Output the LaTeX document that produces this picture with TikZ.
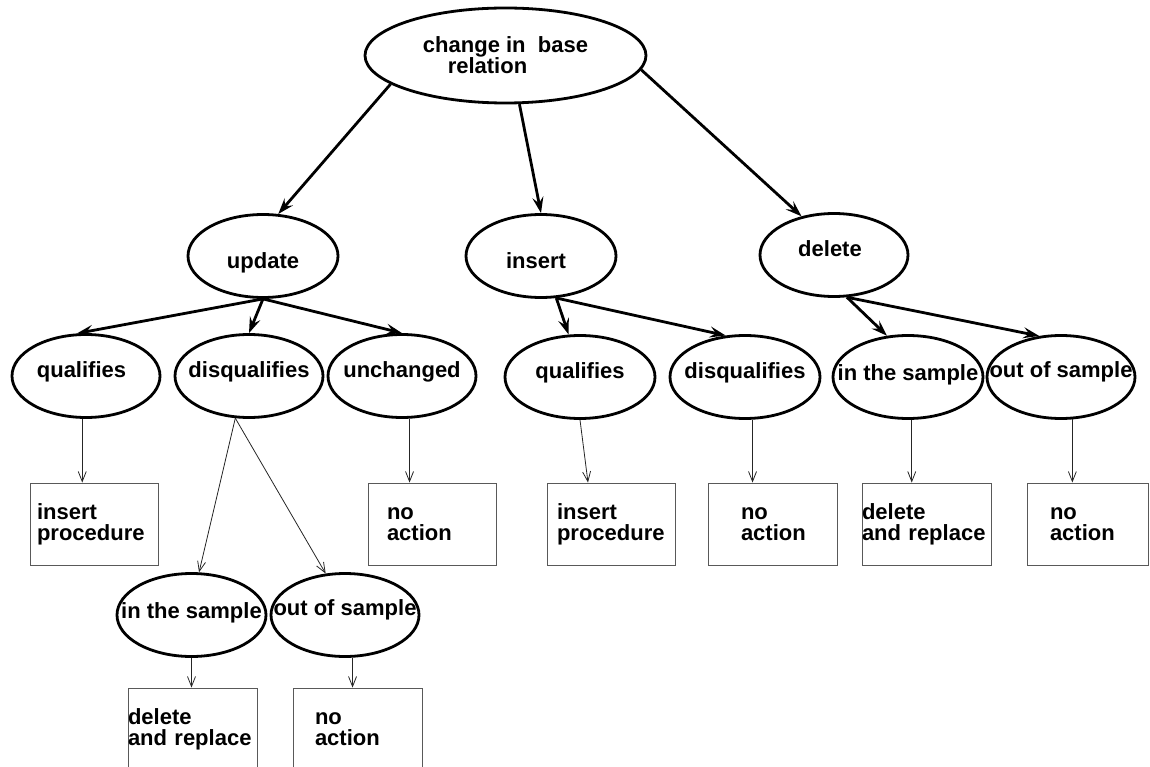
\documentclass[tikz,border=0pt]{standalone}
\usepackage{fontspec}
\setmainfont{Liberation Sans}
\usetikzlibrary{shapes.geometric,arrows.meta}
\newcommand{\zl}[1]{\makebox[0pt]{#1}}
\newcommand{\bt}[3]{\hspace*{#1pt}#2\\\hspace*{#1pt}#3}
\tikzset{
  lbl/.style={font=\fontsize{22}{21}\selectfont\bfseries},
  ell/.style={lbl, draw, ellipse, line width=2.8pt, minimum width=150pt, minimum height=83pt, inner sep=0pt, text depth=0pt},
  rootell/.style={lbl, draw, ellipse, line width=2.8pt, minimum width=281pt, minimum height=95pt, inner sep=0pt, align=center},
  bx/.style={lbl, draw=black!65, line width=0.9pt, minimum height=82pt, inner sep=0pt, align=left},
  thk/.style={line width=2.8pt, -{Stealth[length=16pt,width=11pt,inset=6pt]}},
  thn/.style={line width=0.8pt, draw=black!85, -{Straight Barb[length=10pt,width=8pt,line width=0.8pt]}}
}
\begin{document}
\begin{tikzpicture}[x=1pt,y=-1pt]
\useasboundingbox (0,0) rectangle (1150,767);
% root
\node[rootell] (root) at (505.5,55.5) {change in\ \ base\\relation\hspace*{36pt}};
% first level
\node[ell, text height=24pt] (upd) at (263,256) {\zl{update}};
\node[ell, text height=24pt] (ins) at (541,256) {\zl{\hspace*{-10pt}insert}};
\node[ell, minimum width=148pt, text height=4pt] (del) at (834,255) {\zl{\hspace*{-8pt}delete}};
% second level
\node[ell, minimum width=148pt, text height=2pt] (q1) at (86,376) {\zl{\hspace*{-9pt}qualifies}};
\node[ell, minimum width=148pt, text height=2pt] (d1) at (249,376) {\zl{disqualifies}};
\node[ell, minimum width=148pt, text height=2pt] (u1) at (402,376) {\zl{unchanged}};
\node[ell, text height=2pt] (q2) at (580,377) {\zl{qualifies}};
\node[ell, text height=2pt] (d2) at (745,377) {\zl{disqualifies}};
\node[ell, text height=6pt] (s2) at (908,377) {\zl{in the sample}};
\node[ell, minimum width=148pt, text height=0pt] (o2) at (1061,377) {\zl{out of sample}};
% third level
\node[ell, minimum width=149pt, text height=6pt] (s3) at (191.5,615) {\zl{in the sample}};
\node[ell, minimum width=148pt, text height=0pt] (o3) at (345,615) {\zl{out of sample}};
% boxes
\node[bx, text width=128pt] (b1) at (94,524) {\bt{7}{insert}{procedure}};
\node[bx, text width=128pt] (b2) at (432,524) {\bt{19}{no}{action}};
\node[bx, text width=129pt] (b3) at (192.5,729) {\bt{0}{delete}{and replace}};
\node[bx, text width=129pt] (b4) at (357.5,729) {\bt{22}{no}{action}};
\node[bx, text width=128pt] (b5) at (611,524) {\bt{10}{insert}{procedure}};
\node[bx, text width=129pt] (b6) at (772.5,524) {\bt{33}{no}{action}};
\node[bx, text width=129pt] (b7) at (926.5,524) {\bt{0}{delete}{and replace}};
\node[bx, text width=121pt] (b8) at (1087.5,524) {\bt{23}{no}{action}};
% thick connectors
\draw[thk] (root.194) -- (upd.70);
\draw[thk] (root.286) -- (ins.north);
\draw[thk] (root.354) -- (del.130);
\draw[thk] (upd.south) -- (q1.102);
\draw[thk] (upd.south) -- (d1.north);
\draw[thk] (upd.south) -- (u1.north);
\draw[thk] (ins.290) -- (q2.105);
\draw[thk] (ins.290) -- (d2.115);
\draw[thk] (del.287) -- (s2.117);
\draw[thk] (del.287) -- (o2.118);
% thin connectors
\draw[thn] (q1.265) -- (q1.265 |- b1.north);
\draw[thn] (d1.252) -- (s3.80);
\draw[thn] (d1.252) -- (o3.115);
\draw[thn] (u1.-80) -- (u1.-80 |- b2.north);
\draw[thn] (s3.south) -- (s3.south |- b3.north);
\draw[thn] (o3.-80) -- (o3.-80 |- b4.north);
\draw[thn] (q2.south) -- ([xshift=-23pt]b5.north);
\draw[thn] (d2.-80) -- (d2.-80 |- b6.north);
\draw[thn] (s2.-85) -- (s2.-85 |- b7.north);
\draw[thn] (o2.-75) -- (o2.-75 |- b8.north);
\end{tikzpicture}
\end{document}
